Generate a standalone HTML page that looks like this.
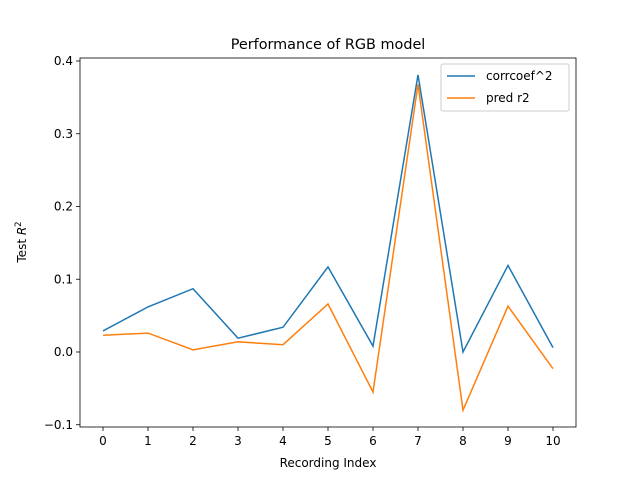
<!DOCTYPE html>
<html><head><meta charset="utf-8"><style>
body{margin:0;background:#fff}
text{font-family:"DejaVu Sans","Liberation Sans",sans-serif;fill:#000}
</style></head><body>
<svg id="chart" width="640" height="480" xmlns="http://www.w3.org/2000/svg">
<rect width="640" height="480" fill="#fff"/>
<text x="328" y="49" font-size="14.4" text-anchor="middle">Performance of RGB model</text>
<g id="plot"></g>
<text x="328" y="467" font-size="12" text-anchor="middle">Recording Index</text>
<text transform="translate(26,242) rotate(-90)" font-size="12" text-anchor="middle">Test <tspan font-style="italic">R</tspan><tspan dy="-5" font-size="8.5">2</tspan></text>
<g>
<rect x="441" y="64" width="128" height="47" rx="2" fill="#fff" stroke="#ccc"/>
<line x1="447" y1="76" x2="475" y2="76" stroke="#1f77b4" stroke-width="1.5"/>
<text x="486" y="80" font-size="12">corrcoef^2</text>
<line x1="447" y1="98" x2="475" y2="98" stroke="#ff7f0e" stroke-width="1.5"/>
<text x="486" y="102" font-size="12">pred r2</text>
</g>
</svg>
<script>
const categories=[0,1,2,3,4,5,6,7,8,9,10];
const corrcoef=[0.029,0.062,0.087,0.019,0.034,0.117,0.008,0.381,0.000,0.119,0.006];
const predR2=[0.023,0.026,0.003,0.014,0.010,0.066,-0.055,0.368,-0.080,0.063,-0.023];
const yTicks=[-0.1,0.0,0.1,0.2,0.3,0.4];
const yTickLabels=["−0.1","0.0","0.1","0.2","0.3","0.4"];
const NS="http://www.w3.org/2000/svg";
const L=80,R=576,T=58,B=427;
function xs(v){return 103+v*45;}
function ys(v){return 352-v*727.5;}
const g=document.getElementById('plot');
function mk(t,a){const e=document.createElementNS(NS,t);for(const k in a)e.setAttribute(k,a[k]);g.appendChild(e);return e;}
categories.forEach(c=>{
 const x=xs(c);
 const tk=mk('line',{x1:x,x2:x,y1:B,y2:B+4,stroke:'#000','stroke-width':0.8});
 
 
 const t=mk('text',{x:x,y:B+18,'font-size':12,'text-anchor':'middle'});t.textContent=c;
 
 
});
yTicks.forEach((v,i)=>{
 const y=ys(v);
 const tk=mk('line',{x1:L-4,x2:L,y1:y,y2:y,stroke:'#000','stroke-width':0.8});
 
 
 const t=mk('text',{x:L-7,y:y+4,'font-size':12,'text-anchor':'end'});t.textContent=yTickLabels[i];
 
 
});
function line(vals,color,name){
 const p=mk('polyline',{points:vals.map((v,i)=>xs(categories[i])+','+ys(v)).join(' '),fill:'none',stroke:color,'stroke-width':1.5});
 
 
}
line(corrcoef,'#1f77b4','series-corrcoef');
line(predR2,'#ff7f0e','series-pred-r2');
const fr=mk('rect',{x:L,y:T,width:R-L,height:B-T,fill:'none',stroke:'#000','stroke-width':0.8});


</script>
</body></html>
